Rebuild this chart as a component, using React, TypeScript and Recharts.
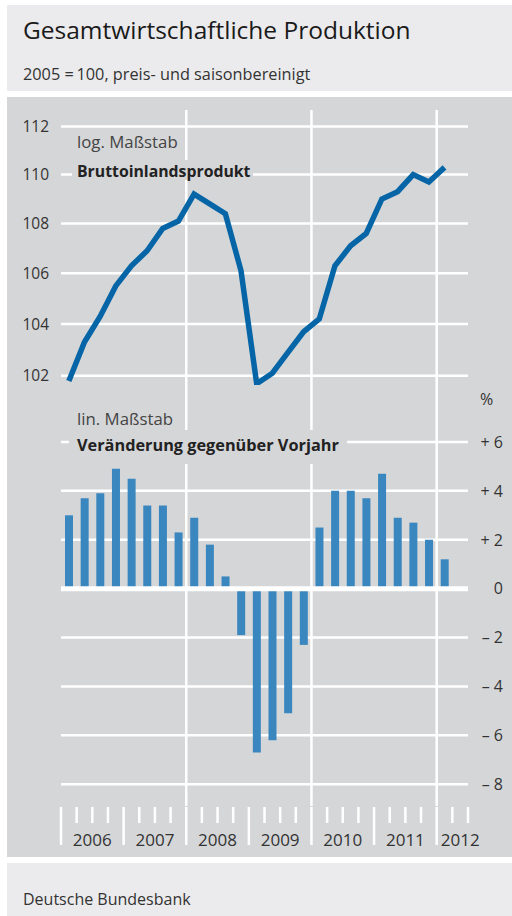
import {
  Bar,
  BarChart,
  CartesianGrid,
  Line,
  LineChart,
  ReferenceLine,
  XAxis,
  YAxis,
} from "recharts";

// quarterly data, 2006 Q1 .. 2012 Q1 (x axis runs to end of 2012 Q2)
const quarters = [
  "2006 Q1", "2006 Q2", "2006 Q3", "2006 Q4",
  "2007 Q1", "2007 Q2", "2007 Q3", "2007 Q4",
  "2008 Q1", "2008 Q2", "2008 Q3", "2008 Q4",
  "2009 Q1", "2009 Q2", "2009 Q3", "2009 Q4",
  "2010 Q1", "2010 Q2", "2010 Q3", "2010 Q4",
  "2011 Q1", "2011 Q2", "2011 Q3", "2011 Q4",
  "2012 Q1",
];
const bipIndex = [
  101.8, 103.3, 104.3, 105.5,
  106.3, 106.9, 107.8, 108.1,
  109.2, 108.8, 108.4, 106.1,
  101.7, 102.1, 102.9, 103.7,
  104.2, 106.3, 107.1, 107.6,
  109.0, 109.3, 110.0, 109.7,
  110.3,
];
const yoyChange = [
  3.0, 3.7, 3.9, 4.9,
  4.5, 3.4, 3.4, 2.3,
  2.9, 1.8, 0.5, -1.9,
  -6.7, -6.2, -5.1, -2.3,
  2.5, 4.0, 4.0, 3.7,
  4.7, 2.9, 2.7, 2.0,
  1.2,
];
const years = ["2006", "2007", "2008", "2009", "2010", "2011", "2012"];
const levelTicks = [102, 104, 106, 108, 110, 112];
const changeTicks = [-8, -6, -4, -2, 0, 2, 4, 6];
const gridQuarters = [8, 16, 24]; // start of 2008, 2010, 2012
const quarterCount = 26;

const rows = quarters.map((q, i) => ({
  q,
  x: i + 0.5,
  bip: bipIndex[i],
  change: yoyChange[i],
}));
const quarterTicks = Array.from({ length: quarterCount + 1 }, (_, i) => i);

const PANEL = "#d5d6d8";
const LIGHT = "#ebebed";
const TEXT = "#333333";
const GRID = "#ffffff";
const PLOT_LEFT = 61;
const PLOT_W = 407;
const QW = PLOT_W / quarterCount;

function LeftTick(props: any) {
  const { x, y, payload } = props;
  return (
    <text x={x - 12} y={y} dy="0.36em" textAnchor="end" fontSize={15.5} fill={TEXT}>
      {payload.value}
    </text>
  );
}

function RightTick(props: any) {
  const { x, y, payload } = props;
  const v = payload.value;
  const label = v > 0 ? `+ ${v}` : v < 0 ? `\u2013 ${-v}` : "0";
  return (
    <text x={x + 35} y={y} dy="0.36em" textAnchor="end" fontSize={16} fill={TEXT}>
      {label}
    </text>
  );
}

function YearTick(props: any) {
  const { x, y, payload } = props;
  const v = payload.value;
  const long = v % 4 === 0;
  const idx = v / 4;
  return (
    <g>
      <line x1={x} x2={x} y1={y + 1} y2={y + (long ? 39 : 17)} stroke={GRID} strokeWidth={2.5} />
      {long && idx < years.length && (
        <text
          x={x + (idx === years.length - 1 ? 1.5 : 2) * QW}
          y={y + 40}
          textAnchor="middle"
          fontSize={17}
          fill={TEXT}
        >
          {years[idx]}
        </text>
      )}
    </g>
  );
}

export default function App() {
  return (
    <div
      style={{
        position: "absolute",
        left: 0,
        top: 0,
        width: 512,
        height: 916,
        background: "#ffffff",
        fontFamily: "'Open Sans', sans-serif",
        overflow: "hidden",
      }}
    >
      <div style={{ position: "absolute", left: 7, top: 5, width: 505, height: 86, background: LIGHT }} />
      <div style={{ position: "absolute", left: 7, top: 97, width: 505, height: 760, background: PANEL }} />
      <div style={{ position: "absolute", left: 7, top: 863, width: 505, height: 53, background: LIGHT }} />

      <div style={{ position: "absolute", left: 0, top: 0 }}>
        <LineChart width={512} height={386} data={rows} margin={{ top: 110, right: 44, bottom: 1, left: 11 }}>
          <CartesianGrid syncWithTicks stroke={GRID} strokeWidth={2.5} />
          <XAxis
            type="number"
            dataKey="x"
            domain={[0, quarterCount]}
            ticks={gridQuarters}
            hide
            allowDataOverflow
          />
          <YAxis
            scale="log"
            type="number"
            domain={[101.65, 112.7]}
            ticks={levelTicks}
            width={50}
            axisLine={false}
            tickLine={false}
            tickSize={0}
            tickMargin={0}
            tick={LeftTick}
            allowDataOverflow
          />
          <Line
            type="linear"
            dataKey="bip"
            stroke="#0565a6"
            strokeWidth={5.5}
            dot={false}
            isAnimationActive={false}
          />
        </LineChart>
      </div>

      <div style={{ position: "absolute", left: 0, top: 385 }}>
        <BarChart width={512} height={471} data={rows} margin={{ top: 0, right: 0, bottom: 0, left: PLOT_LEFT }}>
          <CartesianGrid xAxisId="grid" syncWithTicks stroke={GRID} strokeWidth={2.5} />
          <XAxis
            type="number"
            dataKey="x"
            domain={[0, quarterCount]}
            ticks={quarterTicks}
            interval={0}
            tickSize={0}
            tickMargin={0}
            axisLine={false}
            tick={YearTick}
            height={50}
            allowDataOverflow
          />
          <XAxis
            xAxisId="grid"
            type="number"
            dataKey="x"
            domain={[0, quarterCount]}
            ticks={gridQuarters}
            hide
            allowDataOverflow
          />
          <YAxis
            orientation="right"
            type="number"
            domain={[-8.89, 8.33]}
            ticks={changeTicks}
            width={44}
            axisLine={false}
            tickLine={false}
            tickSize={0}
            tickMargin={0}
            tick={RightTick}
            allowDataOverflow
          />
          <Bar dataKey="change" fill="#3a86be" barSize={8} isAnimationActive={false} />
          <ReferenceLine y={0} stroke={GRID} strokeWidth={5} />
        </BarChart>
      </div>

      <svg
        width={512}
        height={916}
        style={{ position: "absolute", left: 0, top: 0, pointerEvents: "none" }}
      >
        <text x={23} y={38.5} fontSize={24.5} fill="#1a1a1a">
          Gesamtwirtschaftliche Produktion
        </text>
        <text x={23} y={80} fontSize={16.3} fill={TEXT}>
          {"2005 =\u2009100, preis- und saisonbereinigt"}
        </text>

        <text x={77} y={148} fontSize={16.8} fill="#444">
          log. Maßstab
        </text>
        <rect x={72} y={160} width={181} height={20} fill={PANEL} />
        <text x={77} y={177} fontSize={15.8} fontWeight={700} fill="#222">
          Bruttoinlandsprodukt
        </text>

        <text x={77} y={425} fontSize={16.8} fill="#444">
          lin. Maßstab
        </text>
        <rect x={69} y={430} width={278} height={34} fill={PANEL} />
        <text x={77} y={451} fontSize={16.3} fontWeight={700} fill="#222">
          Veränderung gegenüber Vorjahr
        </text>

        <text x={480} y={405} fontSize={16} fill={TEXT}>
          %
        </text>

        <text x={23} y={905} fontSize={16} fill={TEXT}>
          Deutsche Bundesbank
        </text>
      </svg>
    </div>
  );
}
